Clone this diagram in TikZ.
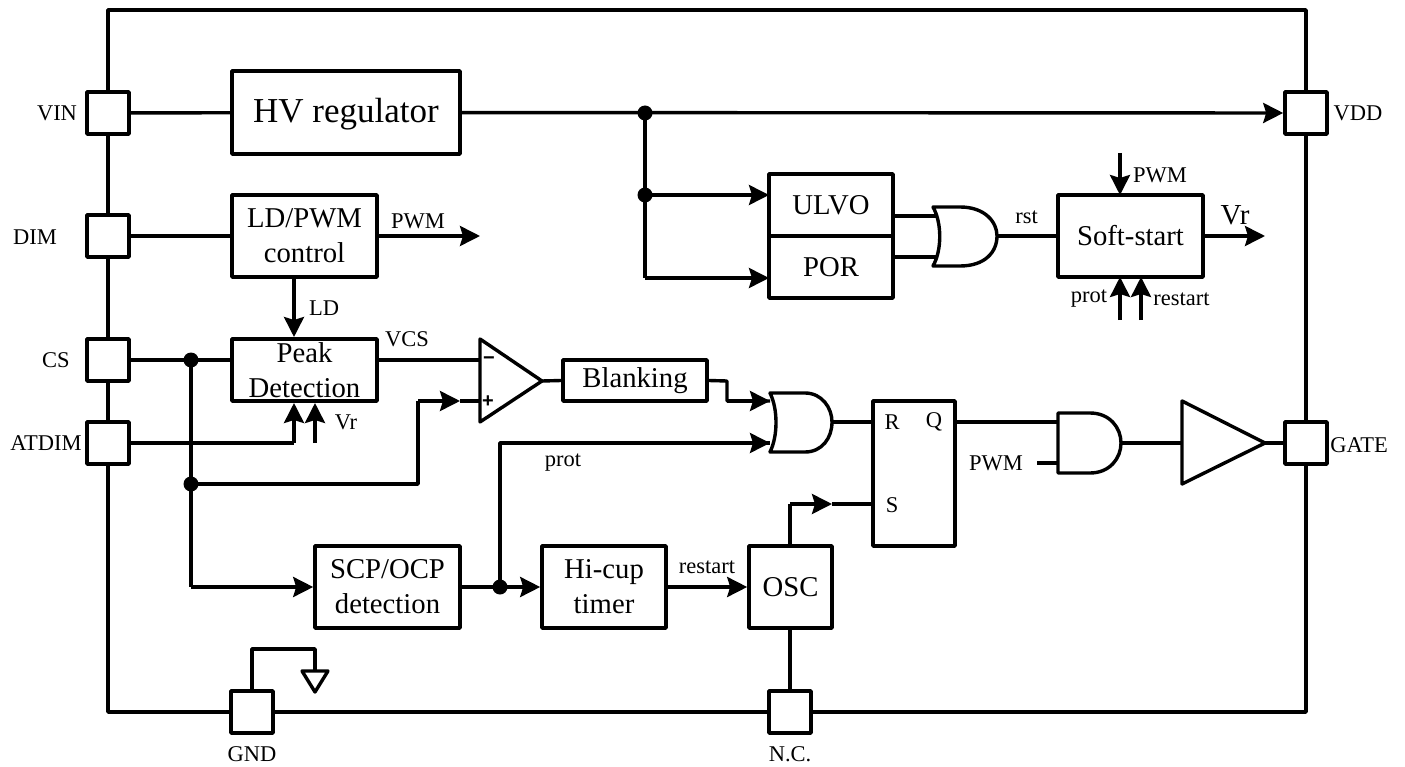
\documentclass[tikz,border=0pt]{standalone}
\usepackage{fontspec}
\setmainfont{Liberation Serif}
\newfontfamily\signfont{Liberation Sans}
\usetikzlibrary{arrows.meta}
\tikzset{
  wire/.style={line width=3.4pt,line join=round},
  arr/.style={wire,-{Stealth[length=20pt,width=20pt,inset=3pt]}},
  blk/.style={draw,line width=3.6pt,line join=round,fill=white,inner sep=0pt,align=center,font=\fontsize{28.7}{35}\selectfont},
  pin/.style={draw,line width=3.6pt,line join=round,fill=white,minimum width=42pt,minimum height=42pt,inner sep=0pt},
  dot/.style={circle,fill=black,minimum size=15pt,inner sep=0pt},
  lab/.style={inner sep=0pt,font=\fontsize{22.5}{24}\selectfont},
  pinlab/.style={inner sep=0pt,font=\fontsize{22.5}{24}\selectfont},
  gate/.style={line width=3.4pt,fill=white,line join=round},
  signmark/.style={inner sep=0pt,font=\signfont\bfseries\fontsize{20}{20}\selectfont},
}
\newcommand{\boxat}[6]{\node[blk,minimum width=#3-#2,minimum height=#5-#4,#6] (#1) at ({(#2+#3)/2},{(#4+#5)/2})}
\begin{document}
\begin{tikzpicture}[x=1pt,y=-1pt]
\useasboundingbox (0,0) rectangle (1405,767);
\draw[wire] (108,10) rectangle (1306,712);
% pins
\node[pin] (vin) at (108,113) {};
\node[pin] (dim) at (108,236) {};
\node[pin] (cs) at (108,360) {};
\node[pin] (atdim) at (108,443) {};
\node[pin] (vdd) at (1306,113) {};
\node[pin] (gatep) at (1306,443) {};
\node[pin] (gnd) at (252,712) {};
\node[pin] (nc) at (790,712) {};
\node[pinlab] (lvin) at (57,113) {VIN};
\node[pinlab] (ldim) at (35,237) {DIM};
\node[pinlab] (lcs) at (56,360) {CS};
\node[pinlab] (latdim) at (46,443) {ATDIM};
\node[pinlab] (lvdd) at (1358,113) {VDD};
\node[pinlab] (lgate) at (1359,445) {GATE};
\node[pinlab] (lgnd) at (252,754) {GND};
\node[pinlab] (lnc) at (790,754) {N.C.};
% blocks
\boxat{hv}{232}{460}{71}{154}{font=\fontsize{35}{38}\selectfont,text height=24pt,text depth=3pt} {HV regulator};
\boxat{ld}{232}{377}{195}{277}{} {LD/PWM\\control};
\boxat{peak}{232}{377}{339}{401}{} {Peak\\Detection};
\boxat{scp}{315}{460}{546}{628}{} {SCP/OCP\\detection};
\boxat{hic}{542}{666}{546}{628}{} {Hi-cup\\timer};
\boxat{osc}{749}{832}{546}{628}{} {OSC};
\boxat{ulvo}{769}{893}{174}{236}{} {ULVO};
\boxat{por}{769}{893}{236}{298}{} {POR};
\boxat{soft}{1058}{1203}{195}{277}{} {Soft-start};
\boxat{blank}{563}{707}{360}{401}{} {Blanking};
\boxat{rs}{873}{955}{401}{546}{} {};
\node[lab] (lr) at (892,422) {R};
\node[lab] (lq) at (934,422) {Q};
\node[lab] (ls) at (892,505) {S};
% coordinates
\coordinate (d1) at (645,113);
\coordinate (d2) at (645,195);
\coordinate (c1) at (645,278);
\coordinate (d3) at (191,360);
\coordinate (d4) at (191,484);
\coordinate (c2) at (191,587);
\coordinate (d5) at (500,587);
\coordinate (c3) at (418,484);
\coordinate (c4) at (418,401);
\coordinate (c5) at (460,401);
\coordinate (cmpm) at (480,360);
\coordinate (cmpp) at (480,401);
\coordinate (cmpo) at (542,381);
\coordinate (c6) at (727,381);
\coordinate (c7) at (727,401);
\coordinate (g2a) at (770,401);
\coordinate (g2b) at (770,443);
\coordinate (g2o) at (832,422);
\coordinate (c8) at (500,443);
\coordinate (g1a) at (938,216);
\coordinate (g1b) at (938,257);
\coordinate (g1o) at (997,236);
\coordinate (an1) at (1058,422);
\coordinate (an2) at (1058,463);
\coordinate (ano) at (1121,443);
\coordinate (pw) at (1037,463);
\coordinate (bufi) at (1182,443);
\coordinate (bufo) at (1265,443);
\coordinate (c9) at (790,504);
\coordinate (c10) at (832,504);
\coordinate (c11) at (294,443);
\coordinate (c12) at (294,403);
\coordinate (c13) at (315,443);
\coordinate (c14) at (315,403);
\coordinate (c15) at (294,337);
\coordinate (c16) at (294,277);
\coordinate (pwmout) at (480,236);
\coordinate (vrout) at (1265,236);
\coordinate (s1) at (1120,153);
\coordinate (s2) at (1120,195);
\coordinate (s3) at (1120,320);
\coordinate (s4) at (1120,277);
\coordinate (s5) at (1141,320);
\coordinate (s6) at (1141,277);
\coordinate (gn1) at (252,649);
\coordinate (gn2) at (315,649);
\coordinate (gn3) at (315,671);
\coordinate (ul1) at (893,216);
\coordinate (ul2) at (893,257);
\coordinate (qo) at (955,422);
\coordinate (ss) at (873,504);
\coordinate (ol) at (790,546);
\coordinate (ob) at (790,628);
\coordinate (u1) at (769,195);
\coordinate (u2) at (769,278);
% connectors
\draw[wire] (vin) -- (hv);
\draw[arr] (hv) -- (vdd);
\draw[wire] (d1) -- (d2);
\draw[arr] (d2) -- (u1);
\draw[wire] (d2) -- (c1);
\draw[arr] (c1) -- (u2);
\draw[wire] (ul1) -- (g1a);
\draw[wire] (ul2) -- (g1b);
\draw[wire] (g1o) -- (soft.west);
\draw[arr] (soft.east) -- (vrout);
\draw[arr] (s1) -- (s2);
\draw[arr] (s3) -- (s4);
\draw[arr] (s5) -- (s6);
\draw[wire] (dim) -- (ld);
\draw[arr] (ld.east) -- (pwmout);
\draw[arr] (c16) -- (c15);
\draw[wire] (cs) -- (d3) -- (peak.west |- d3);
\draw[wire] (d3) -- (d4) -- (c2);
\draw[arr] (c2) -- (scp.west);
\draw[wire] (d4) -- (c3) -- (c4);
\draw[arr] (c4) -- (c5);
\draw[wire] (c5) -- (cmpp);
\draw[wire] (peak.east |- cmpm) -- (cmpm);
\draw[wire] (atdim) -- (c11);
\draw[arr] (c11) -- (c12);
\draw[arr] (c13) -- (c14);
\draw[wire] (cmpo) -- (blank.west);
\draw[wire] (blank.east) -- (c6) -- (c7) -- (g2a);
\draw[wire] (d5) -- (c8) -- (g2b);
\draw[wire] (g2o) -- (rs.west |- g2o);
\draw[wire] (qo) -- (an1);
\draw[wire] (pw) -- (an2);
\draw[wire] (ano) -- (bufi);
\draw[wire] (bufo) -- (gatep);
\draw[wire] (scp) -- (d5);
\draw[arr] (d5) -- (hic);
\draw[arr] (hic) -- (osc);
\draw[wire] (ol) -- (c9);
\draw[arr] (c9) -- (c10);
\draw[wire] (c10) -- (ss);
\draw[wire] (ob) -- (nc);
\draw[wire] (gnd.north) -- (gn1) -- (gn2) -- (gn3);
% symbols
\draw[gate] (302,671) -- (328,671) -- (315,692) -- cycle;
\draw[gate] (480,339) -- (542,381) -- (480,422) -- cycle;
\node[signmark] (mn) at (489,361) {\char"2212};
\node[signmark] (pl) at (488,402) {+};
\draw[gate] (1182,401) -- (1265,443) -- (1182,484) -- cycle;
% gates
\draw[gate] (933,207) -- (960,207) .. controls (985,207) and (997,222) .. (997,236)
  .. controls (997,252) and (985,266) .. (960,266) -- (933,266)
  .. controls (942,250) and (942,223) .. (933,207) -- cycle;
\draw[gate] (770,393) -- (805,393) .. controls (822,393) and (832,408) .. (832,422)
  .. controls (832,438) and (822,452) .. (805,452) -- (770,452)
  .. controls (778,436) and (778,409) .. (770,393) -- cycle;
\draw[gate] (1058,413) -- (1090,413) .. controls (1110,413) and (1121,428) .. (1121,443)
  .. controls (1121,458) and (1110,473) .. (1090,473) -- (1058,473) -- cycle;
\draw[arr] (c7) -- (g2a);
\draw[arr] (c8) -- (g2b);
% dots
\node[dot] (dd1) at (d1) {};
\node[dot] (dd2) at (d2) {};
\node[dot] (dd3) at (d3) {};
\node[dot] (dd4) at (d4) {};
\node[dot] (dd5) at (d5) {};
% labels
\node[lab] (t1) at (1026.5,217) {rst};
\node[lab,font=\fontsize{29}{31}\selectfont] (t2) at (1235,215) {Vr};
\node[lab] (t3) at (1160,175) {PWM};
\node[lab] (t4) at (1089,299) {prot};
\node[lab] (t5) at (1181.5,299) {restart};
\node[lab] (t6) at (418,221) {PWM};
\node[lab] (t7) at (324,308) {LD};
\node[lab] (t8) at (407,339) {VCS};
\node[lab] (t9) at (346,422) {Vr};
\node[lab] (t10) at (563,463) {prot};
\node[lab] (t11) at (996,463) {PWM};
\node[lab] (t12) at (707,567) {restart};
\end{tikzpicture}
\end{document}
